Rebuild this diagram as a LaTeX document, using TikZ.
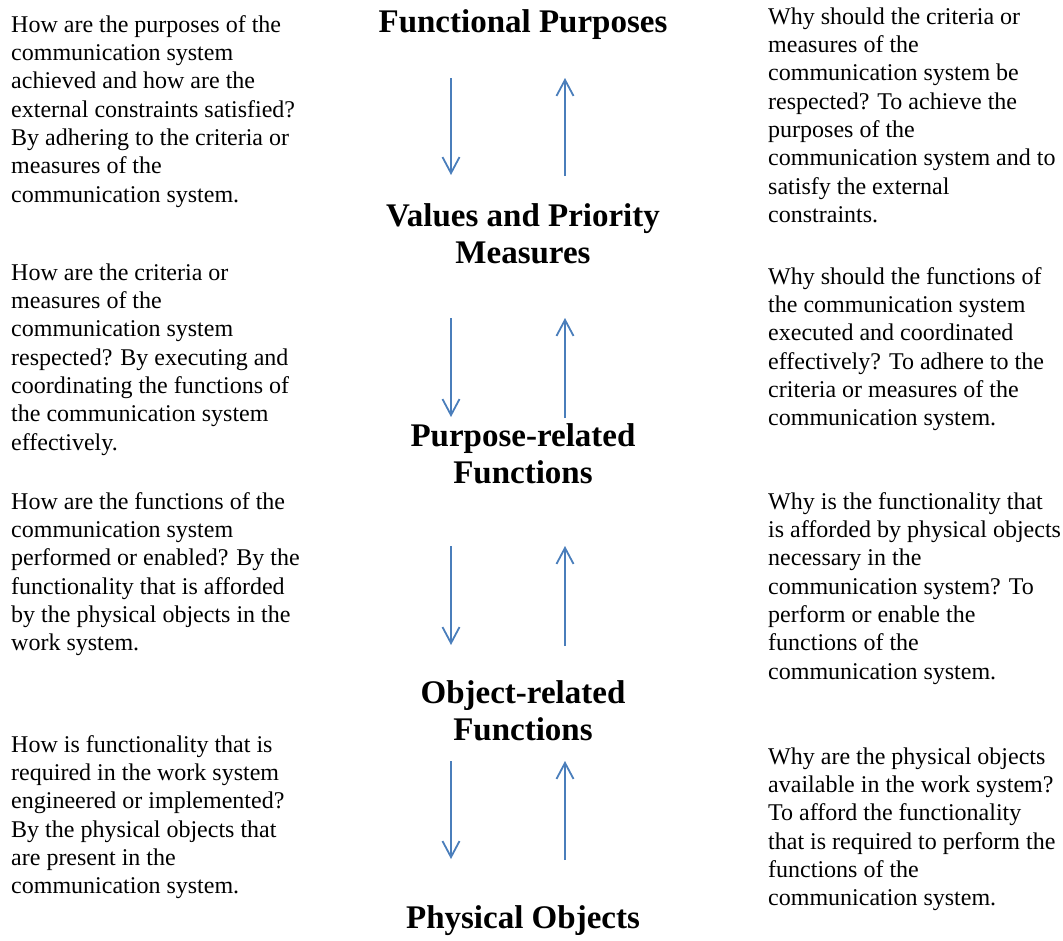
\documentclass[tikz,border=0pt]{standalone}
\usepackage{fontspec}
\setmainfont{Liberation Serif}
\usetikzlibrary{arrows.meta}
\definecolor{arrblue}{HTML}{4A7EBB}
\tikzset{
  sidetext/.style={anchor=north west, inner sep=0pt, align=left, font=\fontsize{24}{28.3}\selectfont},
  heading/.style={anchor=center, inner sep=0pt, align=center, font=\fontsize{33}{36.8}\selectfont\bfseries},
  flow/.style={draw=arrblue, line width=1.8pt, -{Straight Barb[length=16pt,width=17pt,line width=1.8pt]}}
}
\begin{document}
\begin{tikzpicture}[x=1pt,y=-1pt]
\useasboundingbox (0,0) rectangle (1063,940);
% headings
\node[heading] (fp) at (523,25) {Functional Purposes};
\node[heading] (vpm) at (523,234) {Values and Priority\\Measures};
\node[heading] (prf) at (523,454) {Purpose-related\\Functions};
\node[heading] (orf) at (523,711) {Object-related\\Functions};
\node[heading] (po) at (523,921) {Physical Objects};
% left texts
\node[sidetext] (l1) at (11,12.2) {\strut How are the purposes of the\\communication system\\achieved and how are the\\external constraints satisfied?\\By adhering to the criteria or\\measures of the\\communication system.};
\node[sidetext] (l2) at (11,260.2) {\strut How are the criteria or\\measures of the\\communication system\\respected? By executing and\\coordinating the functions of\\the communication system\\effectively.};
\node[sidetext] (l3) at (11,489.2) {\strut How are the functions of the\\communication system\\performed or enabled? By the\\functionality that is afforded\\by the physical objects in the\\work system.};
\node[sidetext] (l4) at (11,732.2) {\strut How is functionality that is\\required in the work system\\engineered or implemented?\\By the physical objects that\\are present in the\\communication system.};
% right texts
\node[sidetext] (r1) at (768,4.2) {\strut Why should the criteria or\\measures of the\\communication system be\\respected? To achieve the\\purposes of the\\communication system and to\\satisfy the external\\constraints.};
\node[sidetext] (r2) at (768,264.2) {\strut Why should the functions of\\the communication system\\executed and coordinated\\effectively? To adhere to the\\criteria or measures of the\\communication system.};
\node[sidetext] (r3) at (768,489.2) {\strut Why is the functionality that\\is afforded by physical objects\\necessary in the\\communication system? To\\perform or enable the\\functions of the\\communication system.};
\node[sidetext] (r4) at (768,744.2) {\strut Why are the physical objects\\available in the work system?\\To afford the functionality\\that is required to perform the\\functions of the\\communication system.};
% arrow end points
\coordinate (d1s) at (451,78);  \coordinate (d1e) at (451,175);
\coordinate (u1s) at (565,176); \coordinate (u1e) at (565,78);
\coordinate (d2s) at (451,318); \coordinate (d2e) at (451,417);
\coordinate (u2s) at (565,418); \coordinate (u2e) at (565,318);
\coordinate (d3s) at (451,546); \coordinate (d3e) at (451,645);
\coordinate (u3s) at (565,646); \coordinate (u3e) at (565,546);
\coordinate (d4s) at (451,761); \coordinate (d4e) at (451,859);
\coordinate (u4s) at (565,860); \coordinate (u4e) at (565,761);
\draw[flow] (d1s) -- (d1e);
\draw[flow] (u1s) -- (u1e);
\draw[flow] (d2s) -- (d2e);
\draw[flow] (u2s) -- (u2e);
\draw[flow] (d3s) -- (d3e);
\draw[flow] (u3s) -- (u3e);
\draw[flow] (d4s) -- (d4e);
\draw[flow] (u4s) -- (u4e);
\end{tikzpicture}
\end{document}
